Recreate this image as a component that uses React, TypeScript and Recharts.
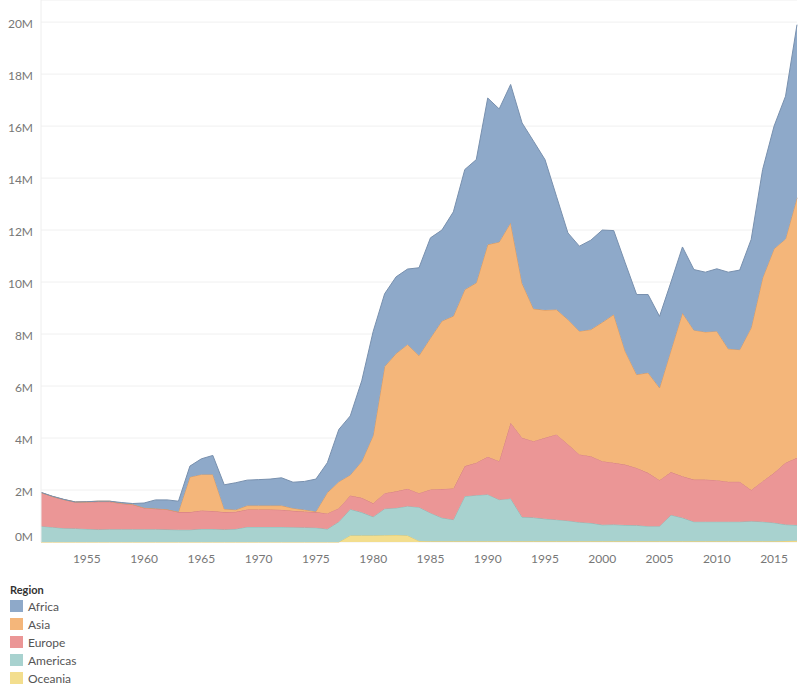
import React from 'react';
import { AreaChart, Area, XAxis, YAxis, CartesianGrid } from 'recharts';

// values in millions of refugees, by region of asylum
const years = [
  1951, 1952, 1953, 1954, 1955, 1956, 1957, 1958, 1959, 1960,
  1961, 1962, 1963, 1964, 1965, 1966, 1967, 1968, 1969, 1970,
  1971, 1972, 1973, 1974, 1975, 1976, 1977, 1978, 1979, 1980,
  1981, 1982, 1983, 1984, 1985, 1986, 1987, 1988, 1989, 1990,
  1991, 1992, 1993, 1994, 1995, 1996, 1997, 1998, 1999, 2000,
  2001, 2002, 2003, 2004, 2005, 2006, 2007, 2008, 2009, 2010,
  2011, 2012, 2013, 2014, 2015, 2016, 2017
];

const oceania = [
  0, 0, 0, 0, 0, 0, 0, 0, 0, 0,
  0, 0, 0, 0, 0, 0, 0, 0, 0, 0,
  0, 0, 0, 0, 0, 0, 0, 0.25, 0.25, 0.25,
  0.26, 0.27, 0.25, 0.04, 0.03, 0.03, 0.03, 0.03, 0.03, 0.03,
  0.03, 0.03, 0.03, 0.03, 0.03, 0.03, 0.03, 0.03, 0.03, 0.03,
  0.03, 0.03, 0.03, 0.03, 0.03, 0.03, 0.03, 0.03, 0.03, 0.03,
  0.03, 0.03, 0.03, 0.03, 0.03, 0.04, 0.05
];

const americas = [
  0.61, 0.57, 0.53, 0.52, 0.5, 0.48, 0.49, 0.49, 0.49, 0.49,
  0.49, 0.48, 0.47, 0.47, 0.5, 0.5, 0.48, 0.5, 0.58, 0.58,
  0.58, 0.58, 0.57, 0.56, 0.55, 0.5, 0.78, 1.01, 0.89, 0.72,
  1.02, 1.04, 1.13, 1.3, 1.09, 0.9, 0.83, 1.73, 1.77, 1.8,
  1.6, 1.64, 0.93, 0.91, 0.86, 0.83, 0.79, 0.73, 0.7, 0.63,
  0.64, 0.62, 0.61, 0.58, 0.58, 1.01, 0.9, 0.75, 0.75, 0.75,
  0.75, 0.75, 0.77, 0.75, 0.71, 0.63, 0.6
];

const europe = [
  1.29, 1.18, 1.1, 1.01, 1.02, 1.07, 1.06, 0.99, 0.95, 0.82,
  0.79, 0.77, 0.68, 0.68, 0.71, 0.69, 0.67, 0.66, 0.67, 0.67,
  0.67, 0.66, 0.63, 0.61, 0.6, 0.6, 0.52, 0.53, 0.56, 0.52,
  0.6, 0.64, 0.67, 0.54, 0.9, 1.11, 1.2, 1.16, 1.25, 1.45,
  1.48, 2.92, 3.05, 2.94, 3.12, 3.28, 2.94, 2.61, 2.57, 2.45,
  2.38, 2.33, 2.21, 2.05, 1.77, 1.65, 1.6, 1.62, 1.62, 1.6,
  1.54, 1.54, 1.2, 1.56, 1.92, 2.38, 2.59
];

const asia = [
  0, 0, 0, 0.01, 0.03, 0.02, 0.02, 0.01, 0.01, 0.01,
  0.01, 0.01, 0.01, 1.35, 1.39, 1.41, 0.12, 0.08, 0.15, 0.15,
  0.15, 0.16, 0.1, 0.07, 0.02, 0.8, 1.02, 0.79, 1.4, 2.61,
  4.87, 5.3, 5.55, 5.29, 5.83, 6.46, 6.63, 6.79, 6.92, 8.16,
  8.43, 7.69, 5.94, 5.09, 4.91, 4.8, 4.8, 4.74, 4.87, 5.34,
  5.7, 4.36, 3.59, 3.85, 3.55, 4.69, 6.28, 5.75, 5.68, 5.73,
  5.11, 5.08, 6.24, 7.82, 8.62, 8.61, 10.0
];

const africa = [
  0.01, 0.01, 0.01, 0, 0, 0, 0, 0.03, 0.03, 0.18,
  0.33, 0.36, 0.41, 0.42, 0.6, 0.73, 0.93, 1.04, 0.98, 1.0,
  1.02, 1.07, 1.0, 1.09, 1.25, 1.15, 2.01, 2.27, 3.1, 4.0,
  2.8, 2.95, 2.9, 3.38, 3.85, 3.5, 4.01, 4.62, 4.74, 5.64,
  5.12, 5.32, 6.17, 6.45, 5.79, 4.36, 3.33, 3.27, 3.44, 3.55,
  3.23, 3.4, 3.08, 3.01, 2.75, 2.62, 2.54, 2.33, 2.3, 2.4,
  2.95, 3.06, 3.4, 4.17, 4.72, 5.49, 6.66
];

const yTicks = [0, 2, 4, 6, 8, 10, 12, 14, 16, 18, 20];
const xTicks = [1955, 1960, 1965, 1970, 1975, 1980, 1985, 1990, 1995, 2000, 2005, 2010, 2015];

const data = years.map((year, i) => ({
  year,
  Oceania: oceania[i],
  Americas: americas[i],
  Europe: europe[i],
  Asia: asia[i],
  Africa: africa[i]
}));

// stacking order bottom -> top
const series = [
  { key: 'Oceania', fill: '#F3DE8E', stroke: '#E3C96E' },
  { key: 'Americas', fill: '#A8D2CF', stroke: '#8DB9B6' },
  { key: 'Europe', fill: '#EB9696', stroke: '#D47F80' },
  { key: 'Asia', fill: '#F4B67A', stroke: '#D99A62' },
  { key: 'Africa', fill: '#8EA9C9', stroke: '#7890AE' }
];

const legendOrder = ['Africa', 'Asia', 'Europe', 'Americas', 'Oceania'];

const font = 'Lato, "Open Sans", sans-serif';

// tableau nudges the zero label up so it sits inside the pane
function YTick(props: any) {
  const { x, y, payload } = props;
  const dy = payload.value === 0 ? -5 : 2;
  return (
    <text
      x={x}
      y={y + dy}
      dy="0.355em"
      textAnchor="end"
      fill="#777"
      fontSize={12}
      fontFamily={font}
    >
      {`${payload.value}M`}
    </text>
  );
}

export default function App() {
  return (
    <div
      style={{
        position: 'absolute',
        left: 0,
        top: 0,
        width: 802,
        height: 691,
        background: '#fff',
        fontFamily: font
      }}
    >
      <AreaChart
        width={802}
        height={570}
        data={data}
        margin={{ top: 0, right: 5, left: 0, bottom: 0 }}
      >
        <CartesianGrid vertical={false} stroke="#f0f0f0" />
        <XAxis
          dataKey="year"
          type="number"
          domain={[1951, 2017]}
          ticks={xTicks}
          height={28}
          tickMargin={6}
          axisLine={false}
          tickLine={false}
          tick={{ fill: '#777', fontSize: 12, fontFamily: font }}
        />
        <YAxis
          domain={[0, 20.85]}
          ticks={yTicks}
          width={41}
          axisLine={{ stroke: '#eeeeee' }}
          tickLine={false}
          tick={<YTick />}
        />
        {series.map((s) => (
          <Area
            key={s.key}
            type="linear"
            dataKey={s.key}
            stackId="1"
            fill={s.fill}
            fillOpacity={1}
            stroke={s.stroke}
            strokeWidth={1}
            dot={false}
            activeDot={false}
            isAnimationActive={false}
          />
        ))}
      </AreaChart>
      <div style={{ position: 'absolute', left: 10, top: 582, fontSize: 12 }}>
        <div style={{ fontWeight: 'bold', color: '#333', fontSize: 11, height: 15, lineHeight: '15px' }}>
          Region
        </div>
        {legendOrder.map((name) => {
          const s = series.find((x) => x.key === name)!;
          return (
            <div
              key={name}
              style={{ display: 'flex', alignItems: 'center', height: 18 }}
            >
              <div style={{ width: 13, height: 12, background: s.fill, marginRight: 5 }} />
              <span style={{ color: '#555', fontSize: 12 }}>{name}</span>
            </div>
          );
        })}
      </div>
    </div>
  );
}
